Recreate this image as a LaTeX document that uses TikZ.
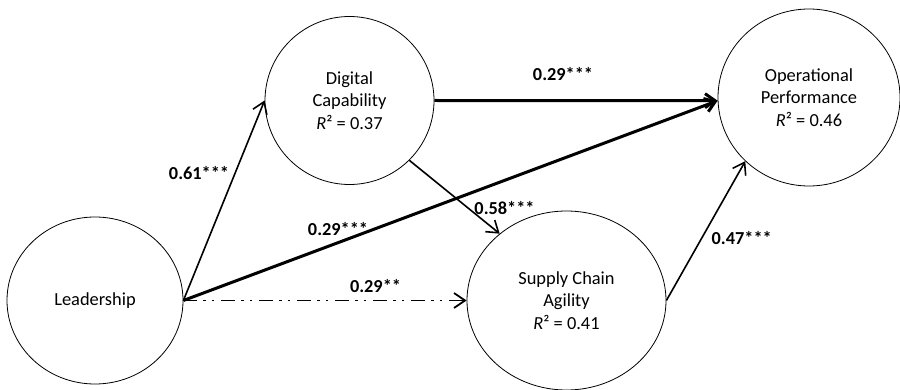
\documentclass[tikz,border=0pt]{standalone}
\usepackage{fontspec}
\setmainfont{Carlito}
\usetikzlibrary{shapes.geometric,arrows.meta}
\begin{document}
\begin{tikzpicture}[x=1pt,y=-1pt,
  construct/.style={draw=black,line width=0.8pt,ellipse,inner sep=0pt,align=center,
    font=\fontsize{18.4}{22.5}\selectfont},
  thinarrow/.style={line width=1.6pt,-{Straight Barb[length=11pt,width=15pt]}},
  thickarrow/.style={line width=3pt,-{Straight Barb[length=10pt,width=14pt]}},
  dasharrow/.style={line width=1.8pt,-{Straight Barb[length=11pt,width=15pt]},
    dash pattern=on 14pt off 6pt on 2.5pt off 6pt on 2.5pt off 7pt},
  coef/.style={font=\fontsize{18.3}{22}\selectfont\bfseries,anchor=base,inner sep=0pt}]
\useasboundingbox (0,0) rectangle (900,390);
\node[construct,minimum width=176pt,minimum height=167pt] (lead) at (95,300.5) {Leadership};
\node[construct,minimum width=169pt,minimum height=168pt] (dc) at (349.5,100.5) {Digital\\Capability\\\textit{R}² = 0.37};
\node[construct,minimum width=182pt,minimum height=177pt] (op) at (809,97.5) {Operational\\Performance\\\textit{R}² = 0.46};
\node[construct,minimum width=199pt,minimum height=179pt] (sca) at (566.5,300.5) {Supply Chain\\Agility\\\textit{R}² = 0.41};
\coordinate (opin) at (op.182);
\draw[thinarrow] (lead.east) -- (dc.west);
\draw[thickarrow] (lead.east) -- (opin);
\draw[thickarrow] (dc.east) -- (opin);
\draw[dasharrow] (lead.east) -- (sca.west);
\draw[thinarrow] (dc.-45) -- (sca.135);
\draw[thinarrow] (sca.east) -- (op.225);
\node[coef] (c1) at (199,180) {0.61***};
\node[coef] (c2) at (338,236) {0.29***};
\node[coef] (c3) at (375.5,292.7) {0.29**};
\node[coef] (c4) at (504.5,214.3) {0.58***};
\node[coef] (c5) at (563,81) {0.29***};
\node[coef] (c6) at (741.7,244.3) {0.47***};
\end{tikzpicture}
\end{document}
